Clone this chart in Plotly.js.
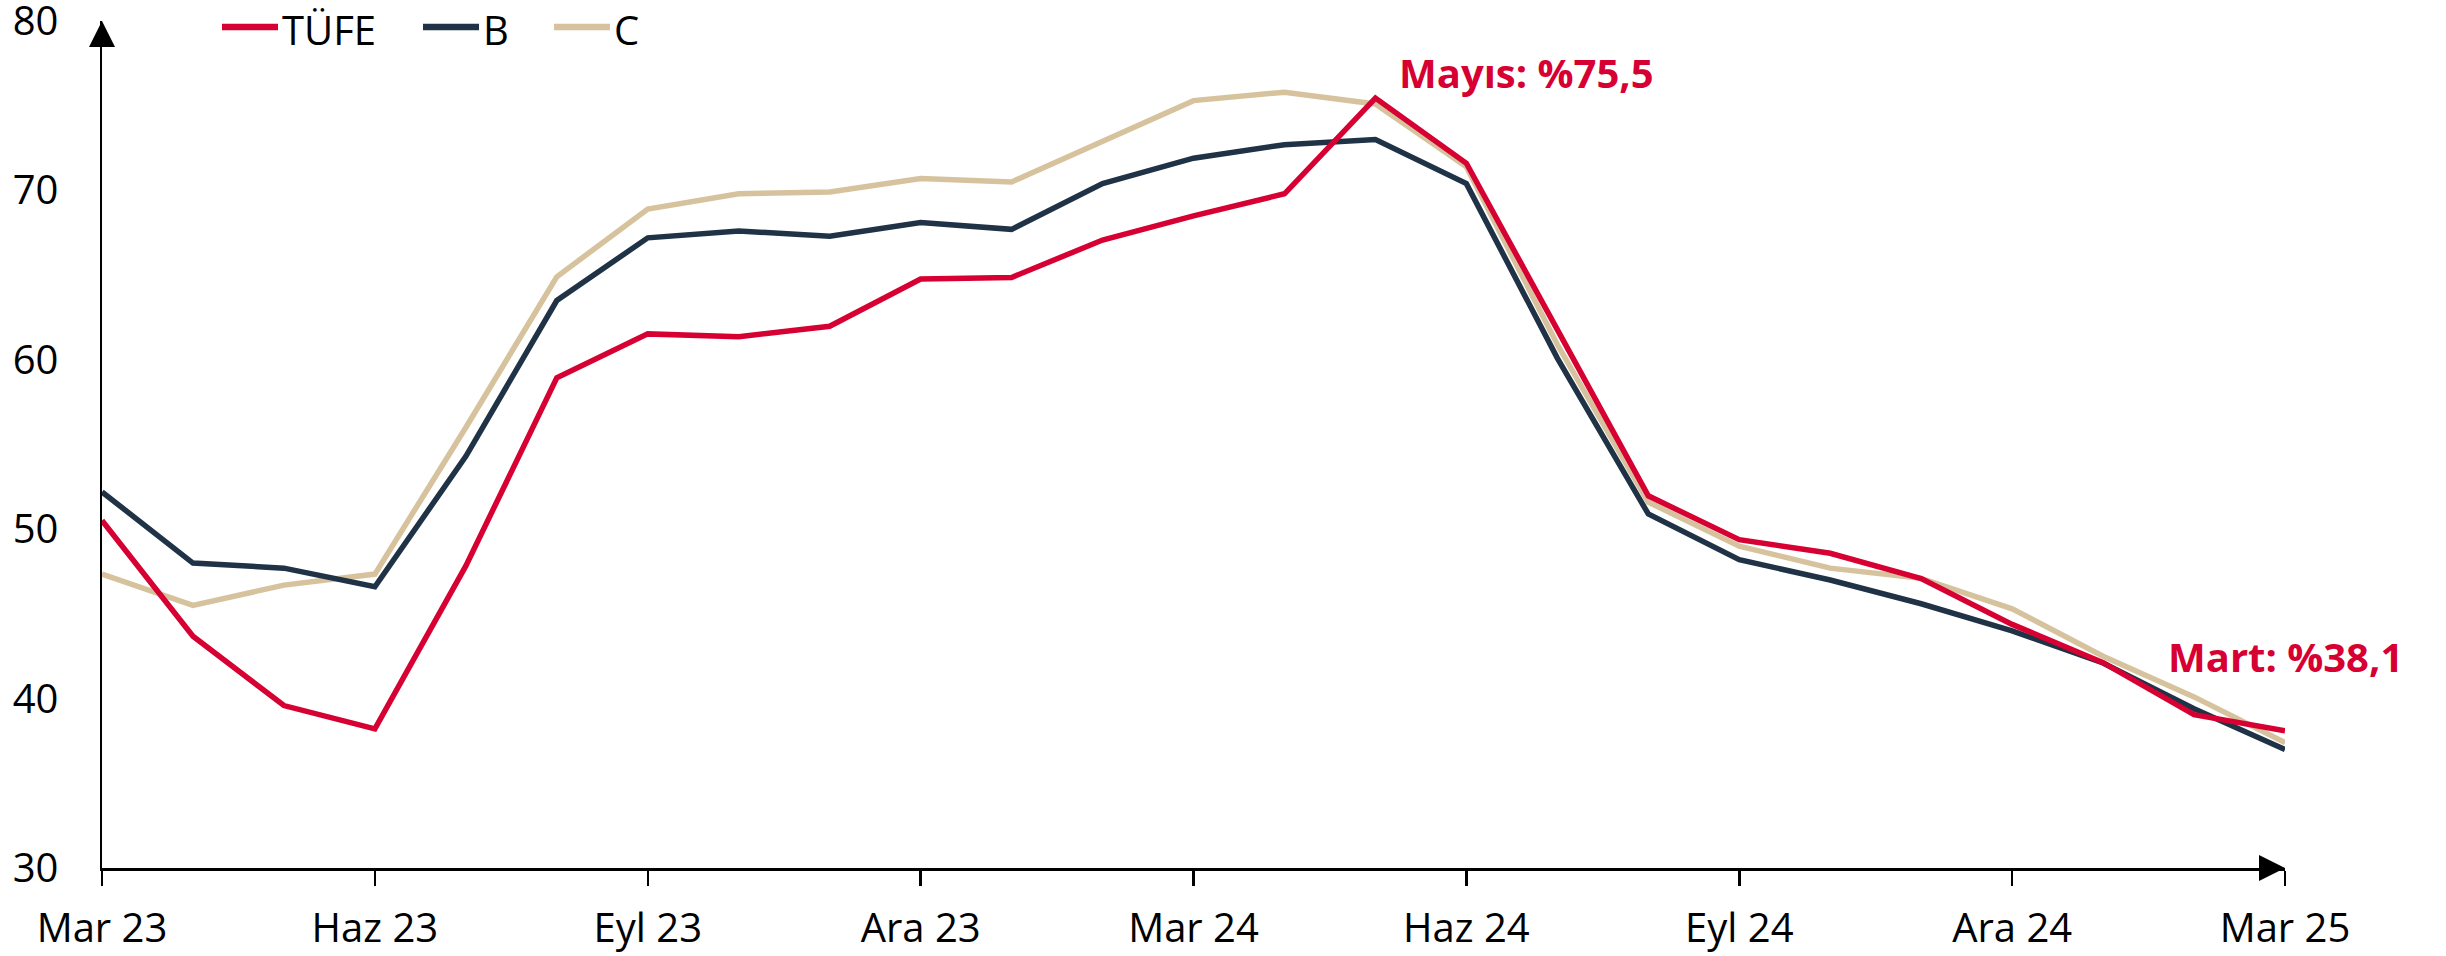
<!DOCTYPE html>
<html>
<head>
<meta charset="utf-8">
<script src="https://cdn.plot.ly/plotly-3.0.1.min.js"></script>
<style>html,body{margin:0;padding:0;background:#fff;}#chart{width:2446px;height:956px;}</style>
</head>
<body>
<div id="chart"></div>
<script>
const months = ['Mar 23','Nis 23','May 23','Haz 23','Tem 23','Ağu 23','Eyl 23','Eki 23','Kas 23','Ara 23','Oca 24','Şub 24','Mar 24','Nis 24','May 24','Haz 24','Tem 24','Ağu 24','Eyl 24','Eki 24','Kas 24','Ara 24','Oca 25','Şub 25','Mar 25'];
const tufe = [50.51, 43.68, 39.59, 38.21, 47.83, 58.94, 61.53, 61.36, 61.98, 64.77, 64.86, 67.07, 68.50, 69.80, 75.45, 71.60, 61.78, 51.97, 49.38, 48.58, 47.09, 44.38, 42.12, 39.05, 38.10];
const coreB = [52.2, 48.0, 47.7, 46.6, 54.3, 63.5, 67.2, 67.6, 67.3, 68.1, 67.7, 70.4, 71.9, 72.7, 73.0, 70.4, 60.1, 50.9, 48.2, 47.0, 45.6, 44.0, 42.1, 39.4, 37.0];
const coreC = [47.35, 45.5, 46.7, 47.35, 56.0, 64.9, 68.9, 69.8, 69.9, 70.7, 70.5, 72.9, 75.3, 75.8, 75.1, 71.4, 60.9, 51.6, 49.0, 47.7, 47.1, 45.3, 42.5, 40.1, 37.4];
const seriesNames = ['TÜFE', 'B', 'C'];
const tickMonths = ['Mar 23','Haz 23','Eyl 23','Ara 23','Mar 24','Haz 24','Eyl 24','Ara 24','Mar 25'];
const yTicks = [30, 40, 50, 60, 70, 80];
const peakLabel = 'Mayıs: %75,5';
const lastLabel = 'Mart: %38,1';

const colors = ['#D70032', '#1F3246', '#D7C29E'];
const FONT = '"Open Sans", "Noto Sans", sans-serif';

const traces = [tufe, coreB, coreC].map((vals, i) => ({
  type: 'scatter', mode: 'lines', x: months, y: vals, name: seriesNames[i],
  line: {color: colors[i], width: 5.5},
  hoverinfo: 'skip', showlegend: false
}));
const data = [traces[2], traces[1], traces[0]];

const peakIdx = tufe.indexOf(Math.max(...tufe));
const lastIdx = tufe.length - 1;

// legend drawn as shapes + text, in pixels from the plot's top-left corner
const legendLineStart = [120, 321, 452];
const legendShapes = seriesNames.map((n, i) => ({
  type: 'line', xref: 'paper', yref: 'paper', xsizemode: 'pixel', ysizemode: 'pixel',
  xanchor: 0, yanchor: 1, x0: legendLineStart[i], x1: legendLineStart[i] + 56, y0: -6, y1: -6,
  line: {color: colors[i], width: 6.5}
}));
const legendTexts = seriesNames.map((n, i) => ({
  xref: 'paper', yref: 'paper', x: 0, y: 1, xanchor: 'left', yanchor: 'top',
  xshift: legendLineStart[i] + 58, yshift: 21, text: n, showarrow: false,
  font: {family: FONT, size: 40, color: '#000'}
}));

const layout = {
  width: 2446, height: 956,
  margin: {l: 102, r: 161, t: 21, b: 88, autoexpand: false},
  paper_bgcolor: '#fff', plot_bgcolor: '#fff',
  font: {family: FONT, size: 40, color: '#000'},
  showlegend: false,
  xaxis: {
    type: 'category', range: [0, months.length - 1],
    tickmode: 'array', tickvals: tickMonths, ticktext: tickMonths,
    showgrid: false, zeroline: false,
    showline: true, linecolor: '#000', linewidth: 2.5,
    ticks: 'outside', ticklen: 15, tickwidth: 2.5, tickcolor: '#000',
    tickfont: {family: FONT, size: 40, color: '#000'},
    ticklabelstandoff: 8, ticklabeloverflow: 'allow'
  },
  yaxis: {
    range: [30, 80], tickmode: 'array', tickvals: yTicks,
    showgrid: false, zeroline: false,
    showline: true, linecolor: '#000', linewidth: 2.5,
    ticks: '', tickfont: {family: FONT, size: 40, color: '#000'},
    ticklabelstandoff: 33, ticklabeloverflow: 'allow'
  },
  shapes: [
    {type: 'path', xref: 'paper', yref: 'paper', xsizemode: 'pixel', ysizemode: 'pixel',
     xanchor: 0, yanchor: 1, path: 'M-13,-26 L13,-26 L0,0 Z', fillcolor: '#000', line: {width: 0}},
    {type: 'path', xref: 'paper', yref: 'paper', xsizemode: 'pixel', ysizemode: 'pixel',
     xanchor: 1, yanchor: 0, path: 'M-26,13 L-26,-13 L0,0 Z', fillcolor: '#000', line: {width: 0}}
  ].concat(legendShapes),
  annotations: [
    {x: months[peakIdx], y: tufe[peakIdx], xref: 'x', yref: 'y', text: peakLabel, showarrow: false,
     xanchor: 'left', yanchor: 'middle', xshift: 22, yshift: 26,
     font: {family: FONT, size: 40, weight: 700, color: colors[0]}},
    {x: months[lastIdx], y: tufe[lastIdx], xref: 'x', yref: 'y', text: lastLabel, showarrow: false,
     xanchor: 'center', yanchor: 'middle', xshift: 0, yshift: 74,
     font: {family: FONT, size: 40, weight: 700, color: colors[0]}}
  ].concat(legendTexts)
};

Plotly.newPlot('chart', data, layout, {staticPlot: true, displayModeBar: false});
</script>
</body>
</html>
